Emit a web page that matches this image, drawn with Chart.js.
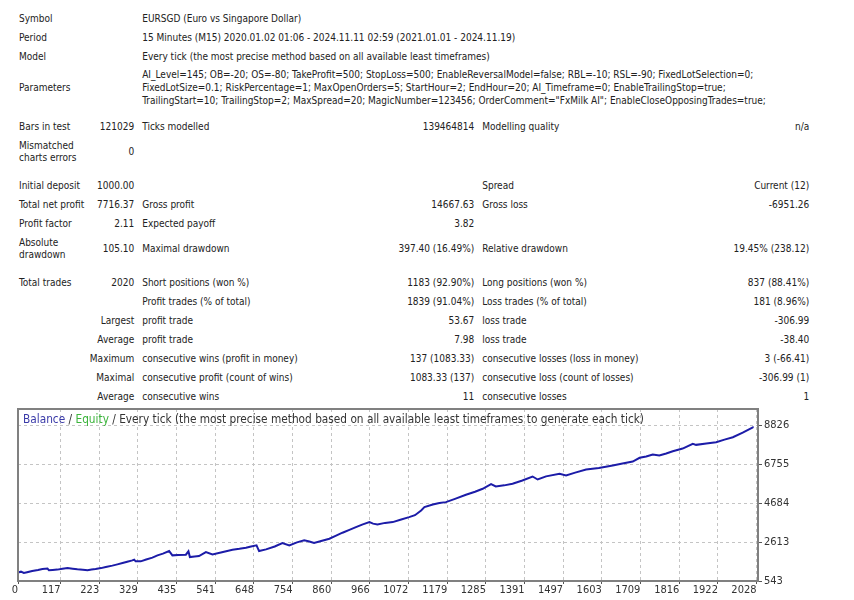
<!DOCTYPE html>
<html>
<head>
<meta charset="utf-8">
<script src="https://cdn.jsdelivr.net/npm/chart.js@4.4.1/dist/chart.umd.min.js"></script>
<style>
  body {
    margin: 0;
    width: 854px;
    height: 600px;
    background: #fff;
    position: relative;
    overflow: hidden;
    font-family: 'DejaVu Sans Condensed', 'DejaVu Sans', sans-serif;
    font-size: 10px;
    color: #222;
  }
  table.report {
    position: absolute;
    left: 15px;
    top: 9px;
    border-collapse: collapse;
    table-layout: fixed;
  }
  table.report td {
    padding: 0 4px;
    height: 19px;
    white-space: nowrap;
    vertical-align: middle;
    text-align: left;
  }
  table.report td.r { text-align: right; }
  table.report tr.two td { height: 31px; line-height: 12px; }
  table.report tr.params td { height: 43px; line-height: 13px; }
  table.report tr.gap8 td { height: 8px; }
  table.report tr.gap9 td { height: 9px; }
  #chartBox {
    position: absolute;
    left: 0;
    top: 400px;
    width: 854px;
    height: 200px;
  }
  #chartTitle {
    position: absolute;
    left: 23px;
    top: 412px;
    font-size: 11.75px;
    color: #333;
    white-space: nowrap;
  }
  #chartTitle .bal { color: #3a3aa8; }
  #chartTitle .eq { color: #3cb43c; }
</style>
</head>
<body>

<table class="report">
  <colgroup>
    <col style="width:78px"><col style="width:43px"><col style="width:250px">
    <col style="width:90px"><col style="width:224px"><col style="width:111px">
  </colgroup>
  <tr><td colspan="2">Symbol</td><td colspan="4">EURSGD (Euro vs Singapore Dollar)</td></tr>
  <tr><td colspan="2">Period</td><td colspan="4">15 Minutes (M15) 2020.01.02 01:06 - 2024.11.11 02:59 (2021.01.01 - 2024.11.19)</td></tr>
  <tr><td colspan="2">Model</td><td colspan="4">Every tick (the most precise method based on all available least timeframes)</td></tr>
  <tr class="params"><td colspan="2">Parameters</td><td colspan="4">AI_Level=145; OB=-20; OS=-80; TakeProfit=500; StopLoss=500; EnableReversalModel=false; RBL=-10; RSL=-90; FixedLotSelection=0;<br>FixedLotSize=0.1; RiskPercentage=1; MaxOpenOrders=5; StartHour=2; EndHour=20; AI_Timeframe=0; EnableTrailingStop=true;<br>TrailingStart=10; TrailingStop=2; MaxSpread=20; MagicNumber=123456; OrderComment="FxMilk AI"; EnableCloseOpposingTrades=true;</td></tr>
  <tr class="gap8"><td colspan="6"></td></tr>
  <tr><td>Bars in test</td><td class="r">121029</td><td>Ticks modelled</td><td class="r">139464814</td><td>Modelling quality</td><td class="r">n/a</td></tr>
  <tr class="two"><td>Mismatched<br>charts errors</td><td class="r">0</td><td colspan="4"></td></tr>
  <tr class="gap9"><td colspan="6"></td></tr>
  <tr><td>Initial deposit</td><td class="r">1000.00</td><td></td><td></td><td>Spread</td><td class="r">Current (12)</td></tr>
  <tr><td>Total net profit</td><td class="r">7716.37</td><td>Gross profit</td><td class="r">14667.63</td><td>Gross loss</td><td class="r">-6951.26</td></tr>
  <tr><td>Profit factor</td><td class="r">2.11</td><td>Expected payoff</td><td class="r">3.82</td><td></td><td></td></tr>
  <tr class="two"><td>Absolute<br>drawdown</td><td class="r">105.10</td><td>Maximal drawdown</td><td class="r">397.40 (16.49%)</td><td>Relative drawdown</td><td class="r">19.45% (238.12)</td></tr>
  <tr class="gap9"><td colspan="6"></td></tr>
  <tr><td>Total trades</td><td class="r">2020</td><td>Short positions (won %)</td><td class="r">1183 (92.90%)</td><td>Long positions (won %)</td><td class="r">837 (88.41%)</td></tr>
  <tr><td colspan="2"></td><td>Profit trades (% of total)</td><td class="r">1839 (91.04%)</td><td>Loss trades (% of total)</td><td class="r">181 (8.96%)</td></tr>
  <tr><td colspan="2" class="r">Largest</td><td>profit trade</td><td class="r">53.67</td><td>loss trade</td><td class="r">-306.99</td></tr>
  <tr><td colspan="2" class="r">Average</td><td>profit trade</td><td class="r">7.98</td><td>loss trade</td><td class="r">-38.40</td></tr>
  <tr><td colspan="2" class="r">Maximum</td><td>consecutive wins (profit in money)</td><td class="r">137 (1083.33)</td><td>consecutive losses (loss in money)</td><td class="r">3 (-66.41)</td></tr>
  <tr><td colspan="2" class="r">Maximal</td><td>consecutive profit (count of wins)</td><td class="r">1083.33 (137)</td><td>consecutive loss (count of losses)</td><td class="r">-306.99 (1)</td></tr>
  <tr><td colspan="2" class="r">Average</td><td>consecutive wins</td><td class="r">11</td><td>consecutive losses</td><td class="r">1</td></tr>
</table>

<div id="chartBox"><canvas id="balanceChart" width="854" height="200"></canvas></div>
<div id="chartTitle"><span class="bal">Balance</span> / <span class="eq">Equity</span> / Every tick (the most precise method based on all available least timeframes to generate each tick)</div>

<script>
// trade number on the x axis, balance after that trade
const trades = [0, 8, 16, 25, 39, 55, 67, 81, 85, 95, 108, 122, 136, 150, 163, 178, 191, 202, 213, 228,
  241, 259, 273, 287, 300, 314, 319, 323, 337, 352, 369, 383, 398, 415, 424, 440, 461, 468, 472, 485,
  497, 516, 534, 560, 589, 608, 626, 640, 655, 662, 681, 705, 726, 745, 766, 786, 800, 813, 835, 855,
  872, 891, 910, 928, 945, 965, 975, 987, 1008, 1029, 1050, 1074, 1090, 1107, 1116, 1139, 1157, 1175, 1200, 1230,
  1255, 1276, 1299, 1312, 1335, 1358, 1385, 1413, 1427, 1450, 1487, 1505, 1530, 1560, 1595, 1633, 1660, 1688, 1707, 1725,
  1743, 1761, 1780, 1798, 1825, 1853, 1862, 1890, 1917, 1940, 1963, 1990, 2018, 2020]
const balance = [1000, 1040, 969, 1010, 1075, 1130, 1181, 1203, 1112, 1130, 1150, 1200, 1235, 1200, 1165, 1140, 1112, 1150, 1181, 1230,
  1288, 1362, 1430, 1501, 1570, 1644, 1681, 1591, 1591, 1690, 1788, 1910, 2000, 2139, 1910, 1930, 1947, 2123, 1820, 1850,
  1873, 2086, 1963, 2080, 2213, 2260, 2320, 2380, 2442, 2139, 2229, 2380, 2565, 2442, 2600, 2708, 2650, 2565, 2690, 2798,
  2950, 3117, 3270, 3416, 3550, 3682, 3600, 3560, 3640, 3682, 3810, 3948, 4050, 4304, 4480, 4623, 4700, 4746, 4920, 5140,
  5300, 5459, 5703, 5581, 5640, 5725, 5900, 6113, 5953, 6120, 6257, 6166, 6320, 6485, 6560, 6698, 6800, 6911, 7108, 7180,
  7283, 7230, 7340, 7459, 7600, 7852, 7799, 7870, 7938, 8080, 8204, 8450, 8736, 8716]

const xTicks = [0, 117, 223, 329, 435, 541, 648, 754, 860, 966, 1072, 1179, 1285, 1391, 1497, 1603, 1709, 1816, 1922, 2028]
const yTicks = [543, 2613, 4684, 6755, 8826]

const tickFont = { family: "'DejaVu Sans Condensed', 'DejaVu Sans', sans-serif", size: 11 }

// grey frame round the plot area, like the tester window
const framePlugin = {
  id: 'frame',
  afterDraw(chart) {
    const { ctx, chartArea } = chart
    ctx.save()
    ctx.strokeStyle = '#808080'
    ctx.lineWidth = 2
    ctx.strokeRect(chartArea.left, chartArea.top, chartArea.right - chartArea.left, chartArea.bottom - chartArea.top)
    ctx.restore()
  }
}

new Chart(document.getElementById('balanceChart').getContext('2d'), {
  type: 'line',
  data: {
    datasets: [{
      label: 'Balance',
      data: trades.map((t, i) => ({ x: t, y: balance[i] })),
      borderColor: '#1c1ca8',
      borderWidth: 2,
      pointRadius: 0,
      tension: 0
    }]
  },
  options: {
    responsive: false,
    animation: false,
    layout: { padding: { top: 9, left: 18 } },
    plugins: { legend: { display: false }, tooltip: { enabled: false } },
    scales: {
      x: {
        type: 'linear',
        position: 'bottom',
        min: 0,
        max: 2032,
        afterBuildTicks: scale => { scale.ticks = xTicks.map(v => ({ value: v })) },
        afterFit: scale => { scale.height = 19 },
        grid: { color: '#c4c4c4', tickLength: 3, tickColor: '#555', tickBorderDash: [] },
        border: { display: false, dash: [3, 3] },
        ticks: { align: 'end', padding: 0, color: '#333', font: tickFont, maxRotation: 0, autoSkip: false, callback: v => String(v) }
      },
      y: {
        type: 'linear',
        position: 'right',
        min: 543,
        max: 9710,
        afterBuildTicks: scale => { scale.ticks = yTicks.map(v => ({ value: v })) },
        afterFit: scale => { scale.width = 96 },
        grid: { color: '#c4c4c4', tickLength: 4, tickColor: '#555', tickBorderDash: [] },
        border: { display: false, dash: [3, 3] },
        ticks: { padding: 2, color: '#333', font: tickFont, callback: v => String(v) }
      }
    }
  },
  plugins: [framePlugin]
})
</script>
</body>
</html>
